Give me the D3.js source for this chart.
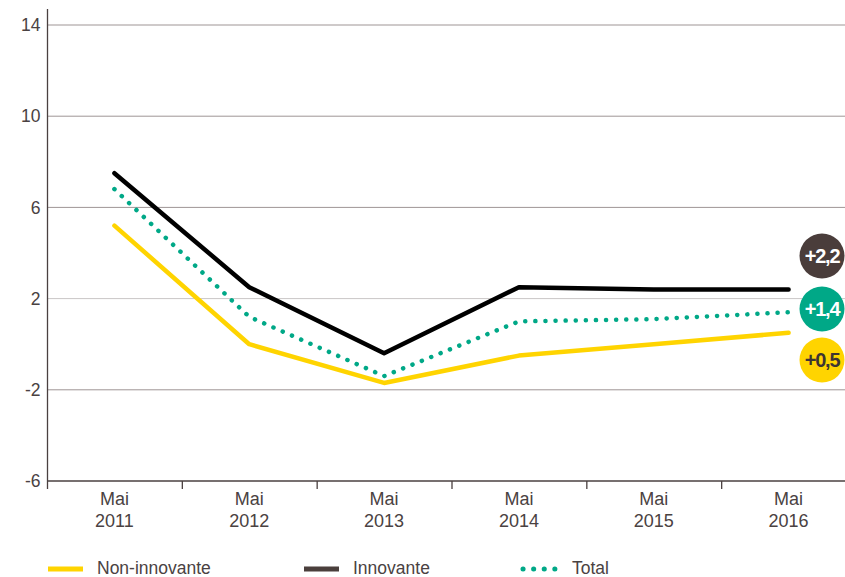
<!DOCTYPE html>
<html>
<head>
<meta charset="utf-8">
<script src="https://cdn.jsdelivr.net/npm/d3@7"></script>
<style>
  body { margin: 0; background: #fff; }
  svg text { font-family: "Liberation Sans", Arial, sans-serif; fill: #4a4242; }
</style>
</head>
<body>
<svg width="845" height="577"></svg>
<script>
// données
const years = ['2011', '2012', '2013', '2014', '2015', '2016']
const nonInnovante = [5.2, 0.0, -1.7, -0.5, 0.0, 0.5]
const innovante = [7.5, 2.5, -0.4, 2.5, 2.4, 2.4]
const total = [6.8, 1.2, -1.4, 1.0, 1.1, 1.4]
const yTicks = [-6, -2, 2, 6, 10, 14]
const badges = ['+2,2', '+1,4', '+0,5']

const svg = d3.select('svg')

const x = d3.scaleBand().domain(years).range([47, 856]).padding(0)
const y = d3.scaleLinear().domain([-6, 14]).range([481, 25])

// grille horizontale
svg.append('g')
  .selectAll('line')
  .data(yTicks.filter(d => d > -6))
  .enter().append('line')
  .attr('x1', 47).attr('x2', 845)
  .attr('y1', d => y(d)).attr('y2', d => y(d))
  .attr('stroke', d => d === 2 ? '#c9c6c6' : '#9e9595')
  .attr('stroke-width', 1)

// axe Y (tiret simple comme dans l'original)
const yAxis = svg.append('g')
  .attr('transform', 'translate(47.5,0)')
  .call(d3.axisLeft(y).tickValues(yTicks).tickSize(0).tickPadding(7).tickFormat(d => String(d)))
yAxis.select('.domain').remove()
yAxis.selectAll('text')
  .attr('font-size', 17.5)
  .attr('fill', '#4a4242')
  .style('font-family', '"Liberation Sans", Arial, sans-serif')
svg.append('line')
  .attr('x1', 47.5).attr('x2', 47.5)
  .attr('y1', 9).attr('y2', 489)
  .attr('stroke', '#4a4040').attr('stroke-width', 1.3)

// axe X
svg.append('line')
  .attr('x1', 47).attr('x2', 845)
  .attr('y1', y(-6)).attr('y2', y(-6))
  .attr('stroke', '#4a4040').attr('stroke-width', 1.3)
svg.append('g')
  .selectAll('line')
  .data(years.slice(1))
  .enter().append('line')
  .attr('x1', d => x(d) + 0.5).attr('x2', d => x(d) + 0.5)
  .attr('y1', y(-6)).attr('y2', y(-6) + 8)
  .attr('stroke', '#4a4040').attr('stroke-width', 1.3)

const xLabels = svg.append('g')
  .selectAll('text')
  .data(years)
  .enter().append('text')
  .attr('x', d => x(d) + x.bandwidth() / 2)
  .attr('text-anchor', 'middle')
  .attr('font-size', 18)
xLabels.append('tspan').attr('x', d => x(d) + x.bandwidth() / 2).attr('y', 505).text('Mai')
xLabels.append('tspan').attr('x', d => x(d) + x.bandwidth() / 2).attr('y', 527).text(d => d)

// courbes
const cx = d => x(d) + x.bandwidth() / 2
const line = d3.line().x((d, i) => cx(years[i])).y(d => y(d))

svg.append('path')
  .datum(nonInnovante)
  .attr('d', line)
  .attr('fill', 'none')
  .attr('stroke', '#ffd400')
  .attr('stroke-width', 4.5)
  .attr('stroke-linecap', 'round')
  .attr('stroke-linejoin', 'round')

svg.append('path')
  .datum(innovante)
  .attr('d', line)
  .attr('fill', 'none')
  .attr('stroke', '#000')
  .attr('stroke-width', 4.5)
  .attr('stroke-linecap', 'round')
  .attr('stroke-linejoin', 'round')

svg.append('path')
  .datum(total)
  .attr('d', line)
  .attr('fill', 'none')
  .attr('stroke', '#00a887')
  .attr('stroke-width', 4.5)
  .attr('stroke-linecap', 'round')
  .attr('stroke-dasharray', '0.1 10')

// pastilles de variation
const badgeColors = ['#4a3d3b', '#00a887', '#ffd400']
const badgeText = ['#fff', '#fff', '#3d3433']
const badgeY = [256, 309, 360]
const badge = svg.append('g')
  .selectAll('g')
  .data(badges)
  .enter().append('g')
  .attr('transform', (d, i) => `translate(822,${badgeY[i]})`)
badge.append('circle')
  .attr('r', 22.5)
  .attr('fill', (d, i) => badgeColors[i])
badge.append('text')
  .attr('text-anchor', 'middle')
  .attr('dy', '0.36em')
  .attr('font-size', 20)
  .attr('font-weight', 'bold')
  .attr('letter-spacing', '-1.2')
  .style('fill', (d, i) => badgeText[i])
  .text(d => d)

// légende
const legendNames = ['Non-innovante', 'Innovante', 'Total']
const legendX = [48, 304, 521]
const legendColors = ['#ffd400', '#4a3f3c', '#00a887']
const legend = svg.append('g')
  .selectAll('g')
  .data(legendNames)
  .enter().append('g')
  .attr('transform', (d, i) => `translate(${legendX[i]},569)`)
legend.append('line')
  .attr('x1', (d, i) => i === 2 ? 2 : 0)
  .attr('x2', 35)
  .attr('stroke', (d, i) => legendColors[i])
  .attr('stroke-width', 5)
  .attr('stroke-linecap', (d, i) => i === 2 ? 'round' : 'butt')
  .attr('stroke-dasharray', (d, i) => i === 2 ? '0.1 10.5' : null)
legend.append('text')
  .attr('x', (d, i) => i === 2 ? 51 : 49)
  .attr('y', 5)
  .attr('font-size', 17.5)
  .text(d => d)
</script>
</body>
</html>
